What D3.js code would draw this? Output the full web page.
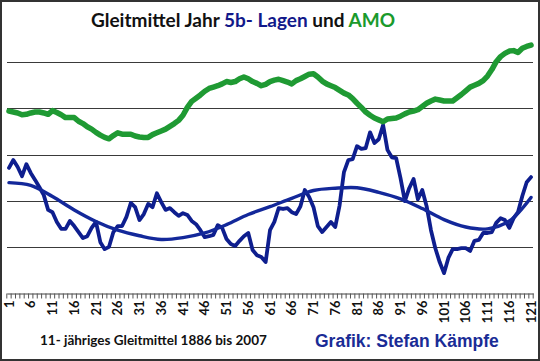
<!DOCTYPE html>
<html><head><meta charset="utf-8">
<script src="https://cdn.jsdelivr.net/npm/d3@7"></script>
<style>
html,body{margin:0;padding:0;background:#fff;}
svg{display:block;}
</style></head>
<body>
<svg id="c" width="540" height="361"></svg>
<script>
// Categories: running year number 1..121 (1886..2007)
const categories = [
 1,2,3,4,5,6,7,8,9,10,11,12,13,14,15,16,17,18,19,20,
 21,22,23,24,25,26,27,28,29,30,31,32,33,34,35,36,37,38,39,40,
 41,42,43,44,45,46,47,48,49,50,51,52,53,54,55,56,57,58,59,60,
 61,62,63,64,65,66,67,68,69,70,71,72,73,74,75,76,77,78,79,80,
 81,82,83,84,85,86,87,88,89,90,91,92,93,94,95,96,97,98,99,100,
 101,102,103,104,105,106,107,108,109,110,111,112,113,114,115,116,117,118,119,120,121];
const tickLabels = [1,6,11,16,21,26,31,36,41,46,51,56,61,66,71,76,81,86,91,96,101,106,111,116,121];
const gridValues = [10,20,30,40,50];

// AMO (11-year moving average, chart units)
const amo = [
 39.4,39.2,39.0,38.6,38.7,39.0,39.2,39.2,39.0,38.7,
 39.5,39.1,38.6,38.0,38.0,38.0,37.2,36.7,36.0,35.5,
 34.8,34.2,33.7,33.4,34.1,34.7,34.4,34.4,34.4,34.0,
 33.8,33.7,33.7,34.3,34.7,35.1,35.5,36.1,36.7,37.4,
 38.5,40.2,41.5,42.2,42.9,43.7,44.3,44.6,44.9,45.3,
 45.8,45.6,45.8,46.4,46.8,46.4,45.8,45.4,44.9,45.2,
 45.8,46.1,46.3,46.0,45.7,45.3,46.0,46.4,46.9,47.4,
 47.5,46.8,45.9,45.3,44.9,44.5,43.9,43.3,42.9,42.1,
 41.1,40.2,39.2,38.5,37.9,37.5,37.1,37.7,37.8,37.9,
 38.3,38.8,39.2,39.4,39.7,40.4,41.1,41.6,42.0,41.8,
 41.6,41.6,41.6,42.3,43.0,43.8,44.6,45.0,45.4,46.0,
 47.0,48.4,50.1,51.2,51.9,52.4,52.5,52.1,53.0,53.4,53.7];

// 5b-Lagen (11-year moving average, chart units)
const lagen5b = [
 27.1,28.8,27.3,25.3,27.9,26.0,24.5,22.9,21.2,18.0,
 17.5,15.4,13.9,13.9,15.6,14.5,13.2,11.9,12.3,14.1,
 15.4,11.0,9.5,10.0,13.2,14.5,14.5,16.5,19.5,18.6,
 15.8,17.1,19.3,18.6,21.6,19.7,18.0,18.4,17.5,16.7,
 17.3,16.9,15.6,14.9,13.6,12.1,12.3,12.6,14.7,14.1,
 11.7,10.6,10.2,11.3,12.3,13.0,9.3,8.2,7.8,6.7,
 13.6,15.4,18.4,18.2,18.4,17.5,17.1,18.8,22.3,20.8,
 18.6,14.5,13.2,14.3,15.4,14.3,19.0,26.2,28.8,29.0,
 31.8,31.2,31.4,34.8,32.5,33.3,36.4,31.0,29.4,29.2,
 24.9,19.9,22.7,24.7,20.3,22.3,18.8,13.6,9.7,6.7,
 4.3,7.6,9.5,9.5,9.7,9.7,9.1,11.3,11.5,13.0,
 13.0,13.2,15.2,16.2,15.8,14.1,16.2,17.5,21.0,24.0,25.1];

// Polynomial trend of 5b-Lagen, read at every 5th category
const trendCats = [1,6,11,16,21,26,31,36,41,46,51,56,61,66,71,76,81,86,91,96,101,106,111,116,121];
const trendVals = [23.9,23.3,20.9,18.0,15.5,13.6,12.4,11.6,12.0,13.0,14.8,17.0,18.7,20.5,22.2,22.7,22.8,21.8,20.4,18.3,15.9,14.3,13.9,15.6,20.7];

const svg = d3.select("#c");
const W = 540, H = 361;
svg.append("rect").attr("x",0).attr("y",0).attr("width",W).attr("height",H).attr("fill","#fff");

const x = d3.scaleBand().domain(categories).range([6.8, 533.2]).paddingInner(0).paddingOuter(0);
const cx = c => x(c) + x.bandwidth()/2;
const y = d3.scaleLinear().domain([0, 60]).range([293, 16]);

// gridlines
svg.append("g").selectAll("line").data(gridValues).join("line")
  .attr("x1", 7).attr("x2", 533)
  .attr("y1", d => Math.round(y(d)) + 0.5).attr("y2", d => Math.round(y(d)) + 0.5)
  .attr("stroke", "#3a3a3a").attr("stroke-width", 1);

// axis with labels
const axis = d3.axisBottom(x).tickValues(tickLabels).tickSize(0).tickPadding(0);
const ag = svg.append("g").attr("transform", "translate(0,293.5)").call(axis);
ag.select(".domain").attr("stroke", "#444").attr("stroke-width", 1.2);
ag.selectAll(".tick text")
  .attr("transform", "rotate(-90)")
  .attr("text-anchor", "end")
  .attr("x", -7).attr("y", 0).attr("dy", "0.36em")
  .attr("font-family", "Lato, 'Open Sans', sans-serif")
  .attr("font-weight", "bold")
  .attr("font-size", 13)
  .attr("fill", "#111");

// category boundary tick marks
const boundaries = categories.map(c => x(c)).concat([x.range()[1]]);
svg.append("g").selectAll("line").data(boundaries).join("line")
  .attr("x1", d => d).attr("x2", d => d)
  .attr("y1", 293.5).attr("y2", 298.5)
  .attr("stroke", "#555").attr("stroke-width", 1);

// 5b-Lagen line
const line = d3.line().x(d => cx(d[0])).y(d => y(d[1]));
svg.append("path")
  .datum(categories.map((c, i) => [c, lagen5b[i]]))
  .attr("d", line)
  .attr("fill", "none").attr("stroke", "#0e1e8e").attr("stroke-width", 3.8)
  .attr("stroke-linejoin", "round").attr("stroke-linecap", "round");

// trend
const trendLine = d3.line().x(d => cx(d[0])).y(d => y(d[1])).curve(d3.curveCatmullRom.alpha(0.5));
svg.append("path")
  .datum(trendCats.map((c, i) => [c, trendVals[i]]))
  .attr("d", trendLine)
  .attr("fill", "none").attr("stroke", "#13289a").attr("stroke-width", 3.4)
  .attr("stroke-linecap", "round");

// AMO line
svg.append("path")
  .datum(categories.map((c, i) => [c, amo[i]]))
  .attr("d", line)
  .attr("fill", "none").attr("stroke", "#1f9a33").attr("stroke-width", 5.5)
  .attr("stroke-linejoin", "round").attr("stroke-linecap", "round");

// title
const t = svg.append("text").attr("x", 91).attr("y", 27)
  .attr("font-family", "Lato, 'Open Sans', sans-serif").attr("font-weight", "bold").attr("font-size", 19);
t.append("tspan").attr("fill", "#111").text("Gleitmittel Jahr ");
t.append("tspan").attr("fill", "#12198a").text("5b- Lagen");
t.append("tspan").attr("fill", "#111").text(" und ");
t.append("tspan").attr("fill", "#1a9a2c").text("AMO");

// footer texts
svg.append("text").attr("x", 40).attr("y", 345)
  .attr("font-family", "Lato, 'Open Sans', sans-serif").attr("font-weight", "bold").attr("font-size", 13.5)
  .attr("fill", "#111").text("11- jähriges Gleitmittel 1886 bis 2007");
svg.append("text").attr("x", 315).attr("y", 347)
  .attr("font-family", "'Liberation Sans', Arial, sans-serif").attr("font-weight", "bold").attr("font-size", 17.5)
  .attr("fill", "#1a2c96").text("Grafik: Stefan Kämpfe");

// frame
svg.append("rect").attr("x", 1).attr("y", 1).attr("width", W - 2).attr("height", H - 2)
  .attr("fill", "none").attr("stroke", "#333").attr("stroke-width", 2);
</script>
</body></html>
